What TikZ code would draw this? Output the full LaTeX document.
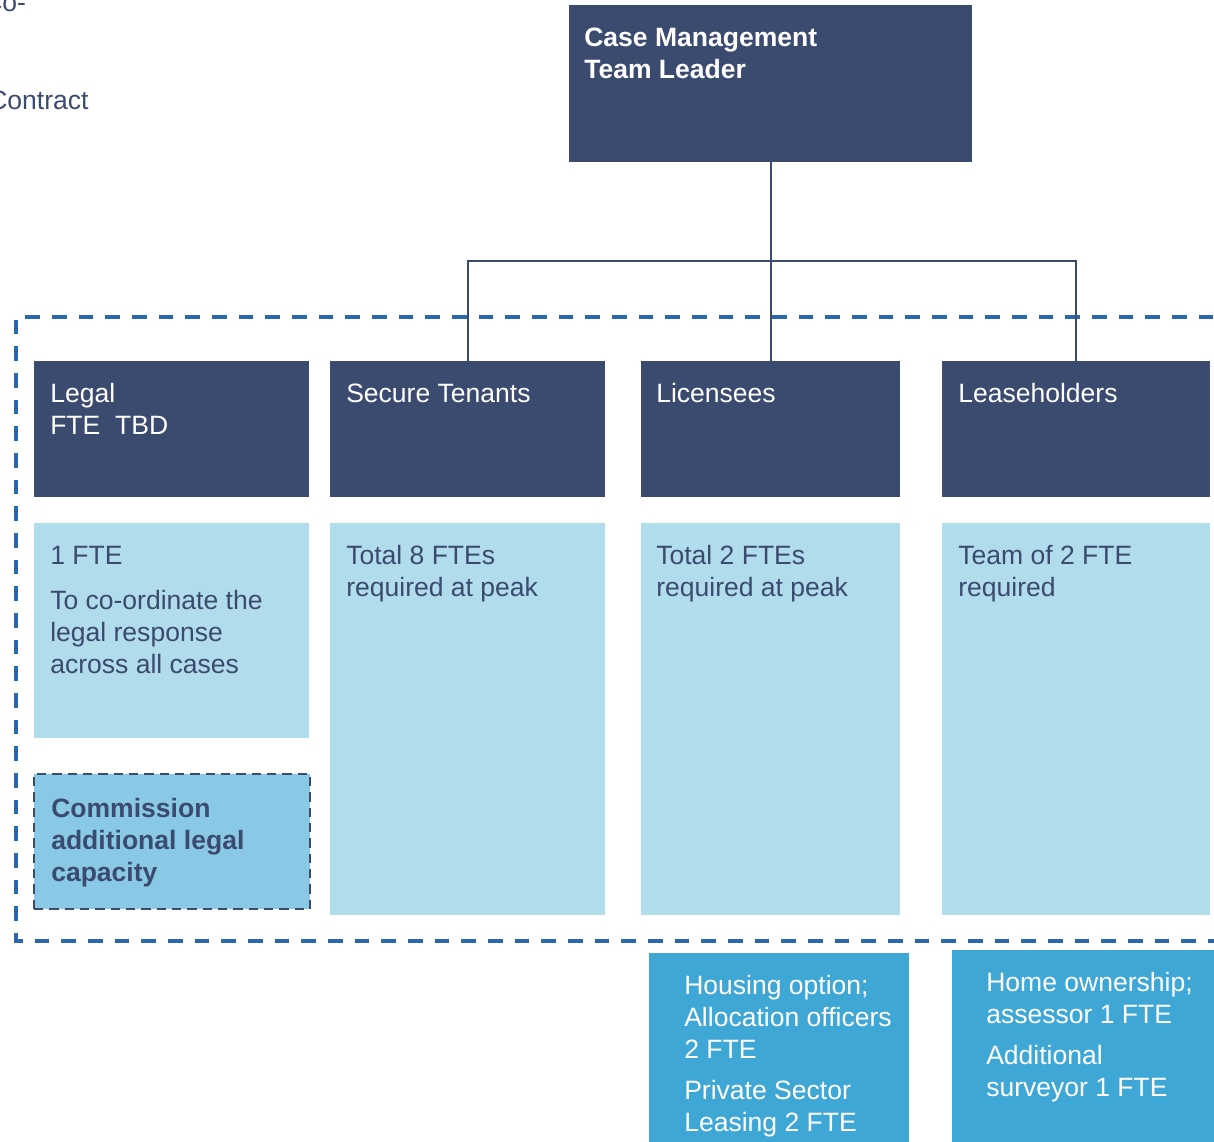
\documentclass[tikz,border=0pt]{standalone}
\usepackage{fontspec}
\setmainfont{Liberation Sans}
\usetikzlibrary{fit}
\definecolor{navy}{HTML}{3B4A6F}
\definecolor{lightb}{HTML}{B1DCEC}
\definecolor{midb}{HTML}{89C9E5}
\definecolor{botb}{HTML}{3FA7D6}
\definecolor{dashb}{HTML}{2B67AC}
\begin{document}
\begin{tikzpicture}[x=0.75pt,y=-0.75pt,
  box/.style={inner sep=0pt, outer sep=0pt},
  head/.style={box, fill=navy},
  body/.style={box, fill=lightb},
  extra/.style={box, fill=botb},
  commis/.style={box, fill=midb, draw=navy, line width=1.8pt, dash pattern=on 7pt off 4.5pt},
  groupline/.style={draw=dashb, line width=2.3pt, dash pattern=on 11pt off 9pt},
  link/.style={draw=navy, line width=1.5pt},
  txt/.style={anchor=base west, inner sep=0pt, font=\fontsize{19.9}{24}\selectfont},
  wtxt/.style={txt, text=white},
  ntxt/.style={txt, text=navy},
  btxt/.style={txt, font=\fontsize{19.9}{24}\selectfont\bfseries}]
\useasboundingbox (0,0) rectangle (1214,1142);

% texts clipped at the top-left edge, as in the reference
\node[ntxt] (co) at (-17,12) {Co-};
\node[ntxt] (contract) at (-12,109) {Contract};

% dashed group border
\draw[groupline] (1240,317) -- (16,317) -- (16,941) -- (1240,941);

% top box
\node[head, fit={(569,5)(972,162)}] (top) {};
\node[btxt, text=white] (t1) at (584,46) {Case Management};
\node[btxt, text=white] (t2) at (584,78) {Team Leader};

% header boxes
\node[head, fit={(34,361)(309,497)}] (legalh) {};
\node[head, fit={(330,361)(605,497)}] (sech) {};
\node[head, fit={(641,361)(900,497)}] (lich) {};
\node[head, fit={(942,361)(1210,497)}] (leah) {};

% connectors
\coordinate (bus) at (770.5,261);
\draw[link] (top.south) -- (lich.north);
\draw[link] (sech.north) |- (bus) -| (leah.north);

\node[wtxt] (lg1) at (50,402) {Legal};
\node[wtxt] (lg2) at (50,434) {FTE\ \ TBD};
\node[wtxt] (st1) at (346,402) {Secure Tenants};
\node[wtxt] (li1) at (656,402) {Licensees};
\node[wtxt] (le1) at (958,402) {Leaseholders};

% body boxes
\node[body, fit={(34,523)(309,738)}] (legalb) {};
\node[body, fit={(330,523)(605,915)}] (secb) {};
\node[body, fit={(641,523)(900,915)}] (licb) {};
\node[body, fit={(942,523)(1210,915)}] (leab) {};

\node[ntxt] (lb1) at (50,564) {1 FTE};
\node[ntxt] (lb2) at (50,609) {To co-ordinate the};
\node[ntxt] (lb3) at (50,641) {legal response};
\node[ntxt] (lb4) at (50,673) {across all cases};

\node[ntxt] (sb1) at (346,564) {Total 8 FTEs};
\node[ntxt] (sb2) at (346,596) {required at peak};
\node[ntxt] (ib1) at (656,564) {Total 2 FTEs};
\node[ntxt] (ib2) at (656,596) {required at peak};
\node[ntxt] (eb1) at (958,564) {Team of 2 FTE};
\node[ntxt] (eb2) at (958,596) {required};

% commission box
\node[commis, fit={(34,774)(310,909)}] (comm) {};
\node[btxt, text=navy] (cm1) at (51,817) {Commission};
\node[btxt, text=navy] (cm2) at (51,849) {additional legal};
\node[btxt, text=navy] (cm3) at (51,881) {capacity};

% bottom boxes
\node[extra, fit={(649,953)(909,1142)}] (hous) {};
\node[wtxt] (h1) at (684,994) {Housing option;};
\node[wtxt] (h2) at (684,1026) {Allocation officers};
\node[wtxt] (h3) at (684,1058) {2 FTE};
\node[wtxt] (h4) at (684,1099) {Private Sector};
\node[wtxt] (h5) at (684,1131) {Leasing 2 FTE};

\node[extra, fit={(952,950)(1214,1142)}] (home) {};
\node[wtxt] (o1) at (986,991) {Home ownership;};
\node[wtxt] (o2) at (986,1023) {assessor 1 FTE};
\node[wtxt] (o3) at (986,1064) {Additional};
\node[wtxt] (o4) at (986,1096) {surveyor 1 FTE};
\end{tikzpicture}
\end{document}
